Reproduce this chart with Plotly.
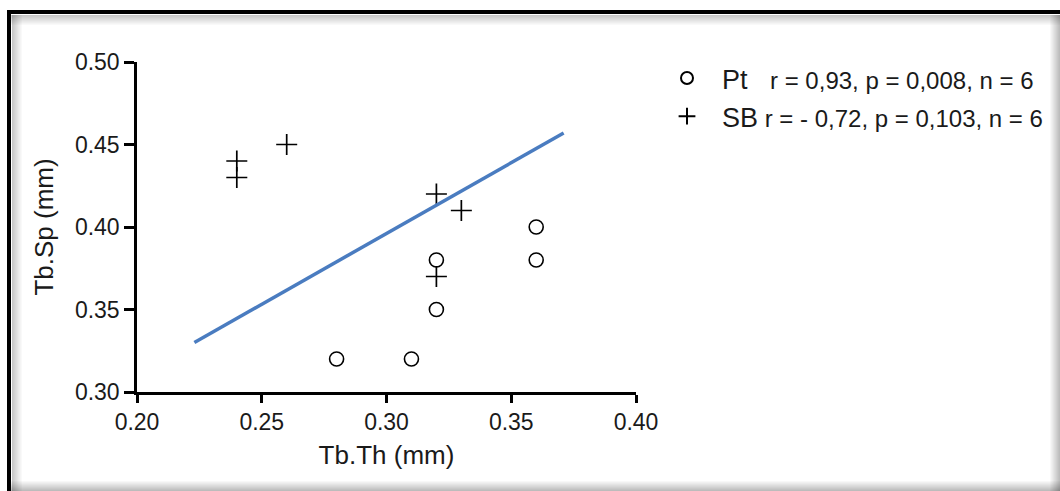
import plotly.graph_objects as go

# ---- data ----
pt_x = [0.28, 0.31, 0.32, 0.32, 0.36, 0.36]
pt_y = [0.32, 0.32, 0.35, 0.38, 0.38, 0.40]
sb_x = [0.24, 0.24, 0.26, 0.32, 0.33, 0.32]
sb_y = [0.44, 0.43, 0.45, 0.42, 0.41, 0.37]
fit_x = [0.223, 0.371]
fit_y = [0.330, 0.457]
pt_label = "Pt"
pt_stats = "r = 0,93, p = 0,008, n = 6"
sb_label = "SB"
sb_stats = "r = - 0,72, p = 0,103, n = 6"
x_ticks = [0.20, 0.25, 0.30, 0.35, 0.40]
y_ticks = [0.30, 0.35, 0.40, 0.45, 0.50]

W, H = 1060, 491
L, R, T, B = 137, 636, 62, 392  # plot area in pixels

FONT = "Liberation Sans, Arial, sans-serif"
TXT = "#1a1a1a"
STATS_SIZE = 24

fig = go.Figure()
fig.add_trace(go.Scatter(
    x=pt_x, y=pt_y, mode="markers",
    name=f"{pt_label}   <span style='font-size:{STATS_SIZE}px'>{pt_stats}</span>",
    marker=dict(symbol="circle-open", size=14, color="black", line=dict(width=1.6, color="black")),
    cliponaxis=False,
))
fig.add_trace(go.Scatter(
    x=sb_x, y=sb_y, mode="markers",
    name=f"{sb_label}<span style='font-size:{STATS_SIZE}px'> {sb_stats}</span>",
    marker=dict(symbol="cross-thin", size=15, color="black", line=dict(width=1.7, color="black")),
    cliponaxis=False,
))
fig.add_trace(go.Scatter(
    x=fit_x, y=fit_y, mode="lines", showlegend=False,
    line=dict(color="#4a7cc0", width=3.5),
    cliponaxis=False,
))

def px_x(p):
    return (p - L) / (R - L)

def px_y(p):
    return (B - p) / (B - T)

shapes = []
# shadow gradients (inside frame)
steps = 10
for i in range(steps):
    op = 0.22 * (1 - i / steps)
    shapes.append(dict(type="rect", xref="paper", yref="paper",
                       x0=px_x(11), x1=px_x(W), y0=px_y(15 + i), y1=px_y(16 + i),
                       fillcolor=f"rgba(0,0,0,{op:.3f})", line=dict(width=0), layer="below"))
    shapes.append(dict(type="rect", xref="paper", yref="paper",
                       x0=px_x(12 + i), x1=px_x(13 + i), y0=px_y(15), y1=px_y(H),
                       fillcolor=f"rgba(0,0,0,{op:.3f})", line=dict(width=0), layer="below"))
    shapes.append(dict(type="rect", xref="paper", yref="paper",
                       x0=px_x(W - 1 - i), x1=px_x(W - i), y0=px_y(15), y1=px_y(H),
                       fillcolor=f"rgba(0,0,0,{op * 1.2:.3f})", line=dict(width=0), layer="below"))
    shapes.append(dict(type="rect", xref="paper", yref="paper",
                       x0=px_x(11), x1=px_x(W), y0=px_y(H - 1 - i), y1=px_y(H - i),
                       fillcolor=f"rgba(0,0,0,{op * 1.2:.3f})", line=dict(width=0), layer="below"))
# black frame lines
shapes.append(dict(type="rect", xref="paper", yref="paper",
                   x0=px_x(7), x1=px_x(W), y0=px_y(14), y1=px_y(10),
                   fillcolor="black", line=dict(width=0)))
shapes.append(dict(type="rect", xref="paper", yref="paper",
                   x0=px_x(7), x1=px_x(11), y0=px_y(H), y1=px_y(10),
                   fillcolor="black", line=dict(width=0)))

fig.update_layout(
    width=W, height=H,
    margin=dict(l=L, r=W - R, t=T, b=H - B),
    paper_bgcolor="white", plot_bgcolor="white",
    font=dict(family=FONT, color=TXT, size=23),
    shapes=shapes,
    showlegend=True,
    legend=dict(
        x=px_x(652), y=px_y(54), xanchor="left", yanchor="top",
        font=dict(size=27, family=FONT, color=TXT),
        bgcolor="rgba(0,0,0,0)", tracegroupgap=0, itemsizing="constant",
        itemwidth=60,
    ),
    xaxis=dict(
        range=[0.20, 0.40], tickvals=x_ticks, ticktext=[f"{v:.2f}" for v in x_ticks],
        showline=True, linecolor="black", linewidth=2.5, mirror=False,
        ticks="outside", ticklen=8, tickwidth=2.5, tickcolor="black",
        showgrid=False, zeroline=False,
        tickfont=dict(size=23, family=FONT, color=TXT),
        title=dict(text="Tb.Th (mm)", font=dict(size=26, family=FONT, color=TXT), standoff=12),
    ),
    yaxis=dict(
        range=[0.30, 0.50], tickvals=y_ticks, ticktext=[f"{v:.2f}" for v in y_ticks],
        showline=True, linecolor="black", linewidth=2.5, mirror=False,
        ticks="outside", ticklen=10, tickwidth=2.5, tickcolor="black",
        showgrid=False, zeroline=False,
        tickfont=dict(size=23, family=FONT, color=TXT),
        title=dict(text="Tb.Sp (mm)", font=dict(size=26, family=FONT, color=TXT), standoff=14),
    ),
)

fig.write_html("out.html")
